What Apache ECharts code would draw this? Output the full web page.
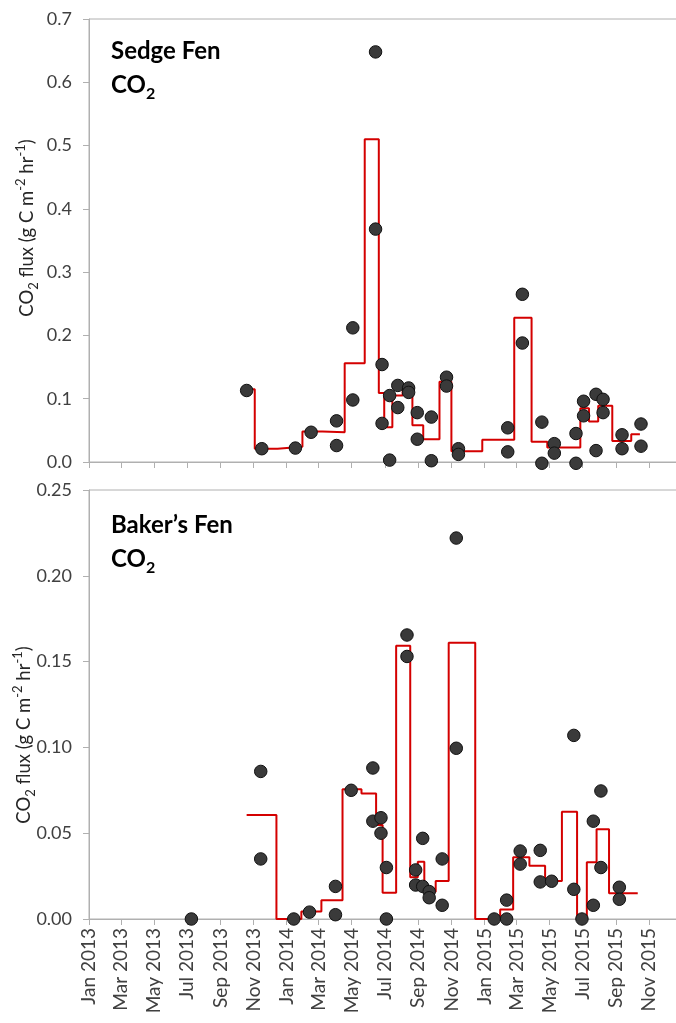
<!DOCTYPE html>
<html>
<head>
<meta charset="utf-8">
<script src="https://cdn.jsdelivr.net/npm/echarts@6/dist/echarts.min.js"></script>
<style>
html,body{margin:0;padding:0;background:#fff;}
#chart{width:676px;height:1023px;}
</style>
</head>
<body>
<div id="chart"></div>
<script>
// ---------- data ----------
const tickLabels = ['Jan 2013','Mar 2013','May 2013','Jul 2013','Sep 2013','Nov 2013',
  'Jan 2014','Mar 2014','May 2014','Jul 2014','Sep 2014','Nov 2014',
  'Jan 2015','Mar 2015','May 2015','Jul 2015','Sep 2015','Nov 2015'];

const sedgeDates = ['2013-10-19','2013-11-16','2014-01-17','2014-02-15','2014-04-03','2014-04-03',
  '2014-05-03','2014-05-03','2014-06-14','2014-06-14','2014-06-26','2014-06-26','2014-07-10','2014-07-10',
  '2014-07-25','2014-07-25','2014-08-14','2014-08-14','2014-08-30','2014-08-30','2014-09-25','2014-09-25',
  '2014-10-23','2014-10-23','2014-11-14','2014-11-14','2015-02-13','2015-02-13','2015-03-12','2015-03-12',
  '2015-04-17','2015-04-17','2015-05-10','2015-05-10','2015-06-19','2015-06-19','2015-07-03','2015-07-03',
  '2015-07-26','2015-07-26','2015-08-08','2015-08-08','2015-09-12','2015-09-12','2015-10-17','2015-10-17'];
const sedgeFlux = [0.113,0.021,0.022,0.047,0.065,0.026,
  0.212,0.098,0.648,0.368,0.154,0.061,0.105,0.003,
  0.121,0.086,0.117,0.110,0.078,0.036,0.071,0.002,
  0.134,0.120,0.021,0.012,0.054,0.016,0.265,0.188,
  0.063,-0.002,0.029,0.014,0.045,-0.002,0.096,0.073,
  0.107,0.018,0.099,0.078,0.043,0.021,0.060,0.025];

const sedgeStepDates = ['2013-10-19','2013-11-03','2013-12-15','2014-01-30','2014-03-08','2014-04-18',
  '2014-05-25','2014-06-20','2014-06-30','2014-07-15','2014-08-03','2014-08-21','2014-09-10','2014-10-10',
  '2014-11-01','2014-12-28','2015-02-25','2015-03-29','2015-04-27','2015-06-27','2015-07-13','2015-07-30',
  '2015-08-25','2015-09-29','2015-10-15'];
const sedgeStepFlux = [0.115,0.021,0.024,0.048,0.047,0.156,
  0.510,0.109,0.055,0.105,0.113,0.058,0.036,0.127,
  0.017,0.035,0.228,0.032,0.023,0.085,0.064,0.089,
  0.033,0.044,0.044];

const bakerDates = ['2013-07-09','2013-11-14','2013-11-14','2014-01-14','2014-02-12','2014-04-01','2014-04-01',
  '2014-04-30','2014-06-09','2014-06-09','2014-06-24','2014-06-24','2014-07-04','2014-07-04',
  '2014-08-11','2014-08-11','2014-08-27','2014-08-27','2014-09-09','2014-09-09','2014-09-21','2014-09-21',
  '2014-10-15','2014-10-15','2014-11-10','2014-11-10','2015-01-19','2015-02-11','2015-02-11',
  '2015-03-08','2015-03-08','2015-04-14','2015-04-14','2015-05-05','2015-06-15','2015-06-15','2015-06-30',
  '2015-07-21','2015-07-21','2015-08-04','2015-08-04','2015-09-07','2015-09-07'];
const bakerFlux = [0,0.086,0.035,0,0.004,0.019,0.0025,
  0.075,0.088,0.057,0.059,0.050,0.030,0,
  0.1655,0.153,0.0286,0.0198,0.047,0.019,0.016,0.0124,
  0.035,0.008,0.222,0.0995,0,0.011,0,
  0.0396,0.032,0.040,0.0216,0.022,0.107,0.0173,0,
  0.057,0.008,0.0746,0.030,0.0185,0.0115];

const bakerStepDates = ['2013-10-19','2013-12-13','2014-01-28','2014-03-06','2014-04-14','2014-05-19',
  '2014-06-15','2014-06-27','2014-07-22','2014-08-17','2014-08-31','2014-09-12','2014-10-03','2014-10-27',
  '2014-12-15','2015-01-30','2015-02-23','2015-03-25','2015-04-23','2015-05-24','2015-06-21','2015-07-09',
  '2015-07-27','2015-08-19','2015-10-11'];
const bakerStepFlux = [0.0606,0,0.0043,0.0109,0.0756,0.0732,
  0.0548,0.0153,0.1593,0.0243,0.0334,0.0159,0.0221,0.161,
  0,0.0056,0.036,0.031,0.0221,0.0625,0,0.033,
  0.0523,0.015,0.015];

// ---------- helpers ----------
const MONTHS = ['Jan','Feb','Mar','Apr','May','Jun','Jul','Aug','Sep','Oct','Nov','Dec'];
function ts(s){ const p = s.split('-').map(Number); return new Date(p[0], p[1]-1, p[2]).getTime(); }
function tickTs(lbl){ const p = lbl.split(' '); return new Date(Number(p[1]), MONTHS.indexOf(p[0]), 1).getTime(); }
function zip(d, v){ return d.map((x,i)=>[ts(x), v[i]]); }
function fmtDate(v){ const d = new Date(v); return MONTHS[d.getMonth()] + ' ' + d.getFullYear(); }

const tickValues = tickLabels.map(tickTs);
const X_MIN = ts('2013-01-01');
const X_MAX = ts('2015-12-28');
const FONT = 'Lato';
const AXIS_C = '#b0b0b0';
const LABEL_C = '#404040';
const NAME_C = '#262626';

const nameRich = {
  n:  {fontFamily: FONT, fontSize: 18.5, fill: NAME_C, color: NAME_C, lineHeight: 26},
  sb: {fontFamily: FONT, fontSize: 13, fill: NAME_C, color: NAME_C, lineHeight: 14, verticalAlign: 'bottom'},
  sp: {fontFamily: FONT, fontSize: 13, fill: NAME_C, color: NAME_C, lineHeight: 16, verticalAlign: 'top'}
};
const yName = '{n|CO}{sb|2}{n| flux (g C m}{sp|-2}{n| hr}{sp|-1}{n|)}';

const titleRich = {
  b: {fontFamily: FONT, fontSize: 24, fontWeight: 'bold', color: '#000', lineHeight: 34},
  s: {fontFamily: FONT, fontSize: 16, fontWeight: 'bold', color: '#000', lineHeight: 20, verticalAlign: 'bottom'}
};

function xAxis(i, showLabels){
  return {
    type: 'value', gridIndex: i, min: X_MIN, max: X_MAX,
    axisLine: {show: true, lineStyle: {color: AXIS_C, width: 1}},
    axisTick: {show: true, customValues: tickValues, length: 6, lineStyle: {color: AXIS_C}},
    axisLabel: {show: showLabels, customValues: tickValues, rotate: 90, margin: 9,
      formatter: v => fmtDate(v), fontFamily: FONT, fontSize: 19, color: LABEL_C, hideOverlap: false},
    splitLine: {show: false}
  };
}
function yAxis(i, max, interval, dec){
  return {
    type: 'value', gridIndex: i, min: 0, max: max, interval: interval,
    axisLine: {show: true, lineStyle: {color: AXIS_C, width: 1}},
    axisTick: {show: true, length: 6, lineStyle: {color: AXIS_C}},
    axisLabel: {formatter: v => v.toFixed(dec), fontFamily: FONT, fontSize: 18, color: LABEL_C, margin: 17},
    splitLine: {show: false}
  };
}
function yTitle(cx, cy){
  return {type: 'text', x: cx, y: cy, rotation: Math.PI / 2, z: 10, silent: true,
    style: {text: yName, rich: nameRich, fill: NAME_C, fontFamily: FONT, fontSize: 18.5,
      align: 'center', verticalAlign: 'middle'}};
}
function stepSeries(i, d, v){
  return {type: 'line', step: 'end', xAxisIndex: i, yAxisIndex: i, data: zip(d, v),
    symbol: 'none', lineStyle: {color: '#d40000', width: 2}, z: 2, silent: true};
}
function dotSeries(i, d, v){
  return {type: 'scatter', xAxisIndex: i, yAxisIndex: i, data: zip(d, v), symbol: 'circle', symbolSize: 12.5,
    clip: false, itemStyle: {color: '#3a3a3a', borderColor: '#111', borderWidth: 1, opacity: 1}, z: 3};
}

const chart = echarts.init(document.getElementById('chart'), null, {renderer: 'canvas'});
chart.setOption({
  animation: false,
  backgroundColor: '#fff',
  title: [
    {left: 106, top: 29, text: '{b|Sedge Fen}\n{b|CO}{s|2}', textStyle: {rich: titleRich}},
    {left: 106, top: 503, text: '{b|Baker\u2019s Fen}\n{b|CO}{s|2}', textStyle: {rich: titleRich}}
  ],
  grid: [
    {left: 89, right: -4, top: 19, height: 443, outerBoundsMode: 'none', containLabel: false,
      show: true, borderColor: AXIS_C, borderWidth: 1, backgroundColor: 'transparent'},
    {left: 89, right: -4, top: 490, height: 429, outerBoundsMode: 'none', containLabel: false,
      show: true, borderColor: AXIS_C, borderWidth: 1, backgroundColor: 'transparent'}
  ],
  xAxis: [xAxis(0, false), xAxis(1, true)],
  yAxis: [yAxis(0, 0.7, 0.1, 1), yAxis(1, 0.25, 0.05, 2)],
  graphic: [yTitle(27, 228), yTitle(24, 735)],
  series: [
    stepSeries(0, sedgeStepDates, sedgeStepFlux),
    dotSeries(0, sedgeDates, sedgeFlux),
    stepSeries(1, bakerStepDates, bakerStepFlux),
    dotSeries(1, bakerDates, bakerFlux)
  ]
});
</script>
</body>
</html>
